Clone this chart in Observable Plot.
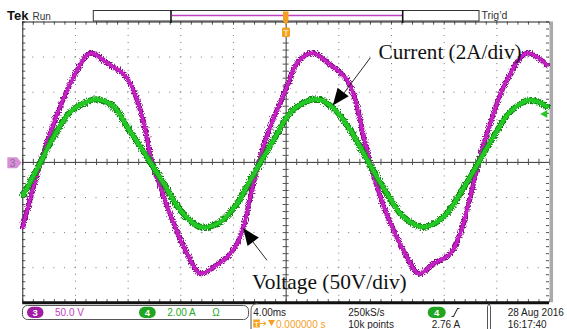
<!DOCTYPE html>
<html><head><meta charset="utf-8">
<script src="https://cdn.jsdelivr.net/npm/d3@7"></script>
<script src="https://cdn.jsdelivr.net/npm/@observablehq/plot@0.6"></script>
<style>
html,body{margin:0;padding:0;background:#fff;}
#chart{width:567px;height:329px;overflow:hidden;position:relative;}
svg{display:block;}
</style></head><body><div id="chart"></div>
<script>
// ---- Data ----
// time in ms relative to trigger (4 ms/div, 10 divisions)
const voltageTime = [-20.0,-18.66,-17.65,-16.38,-15.11,-14.73,-13.59,-12.58,-12.08,-11.32,-10.69,-10.18,-9.55,-8.54,-7.52,-6.51,-5.50,-4.49,-3.73,-3.23,-2.72,-2.09,-1.20,0.07,0.83,1.97,3.35,4.62,5.25,5.88,6.39,7.15,8.16,9.18,10.06,11.19,12.46,13.22,13.98,14.61,15.50,16.77,18.28,19.80];
const voltageValue = [-92,0,55.7,112.9,153.3,155.7,141.4,129.4,120,89,46.1,0,-34.9,-87.1,-130,-158.6,-149.1,-134.9,-115.7,-92,-49.1,0,50.9,108,141.4,155.7,139,117.6,89,36.6,0,-49.1,-96.7,-134.9,-158.6,-144.3,-130,-101.4,-49.1,0,55.7,117.6,155.7,139];
const currentTime = [-19.97,-18.66,-17.65,-16.38,-15.11,-14.35,-13.09,-12.08,-11.07,-10.31,-9.30,-8.03,-6.51,-4.99,-3.73,-2.72,-1.96,-0.95,0.07,0.83,2.35,3.60,4.87,6.26,7.66,8.92,10.44,11.95,13.22,14.61,15.75,17.02,18.53,19.80];
const currentValue = [-1.87,0,1.46,2.89,3.46,3.59,3.18,2.03,0.89,0,-1.20,-2.73,-3.68,-3.39,-2.34,-1.01,0,1.27,2.61,3.18,3.60,3.09,1.85,0,-1.77,-3.11,-3.68,-3.11,-1.77,0,1.46,2.89,3.56,3.18];
const voltsPerDiv = 50, ampsPerDiv = 2, msPerDiv = 4;
const triggerLevel = 2.76; // A, channel 4
const majorX = [-16,-12,-8,-4,4,8,12,16];
const majorY = [-3,-2,-1,1,2,3];

const voltage = voltageTime.map((t,i)=>({t, v: voltageValue[i]}));
const current = currentTime.map((t,i)=>({t, a: currentValue[i]}));
const minorX = d3.range(-20, 20.001, msPerDiv/5);
const minorY = d3.range(-4, 4.001, 0.2);

const W = 567, H = 329;
const mL = 22.3, mR = 18, mT = 21.5, mB = 26.7;
const MAG = "#c61fc6", MAGD = "#8a0e8a", GRN = "#24c824", GRND = "#0c8a0c";
const TXT = "Liberation Sans, Arial, sans-serif";
const SERIF = "Liberation Serif, Times New Roman, serif";

const plot = Plot.plot({
  width: W, height: H,
  marginLeft: mL, marginRight: mR, marginTop: mT, marginBottom: mB,
  x: {domain: [-20, 20], axis: null},
  y: {domain: [-4, 4], axis: null},
  style: {background: "#fff", overflow: "visible"},
  marks: [
    Plot.ruleX(majorX, {stroke: "#777", strokeDasharray: "1,6.02", strokeDashoffset: 0.5}),
    Plot.ruleY(majorY, {stroke: "#777", strokeDasharray: "1,9.53", strokeDashoffset: 0.5}),
    Plot.ruleX([0], {stroke: "#333"}),
    Plot.ruleY([0], {stroke: "#333"}),
    Plot.ruleX(minorX, {y1: -0.09, y2: 0.09, stroke: "#555"}),
    Plot.ruleY(minorY, {x1: -0.23, x2: 0.23, stroke: "#555"}),
    Plot.ruleX(minorX, {y1: 4, y2: 3.91, stroke: "#555"}),
    Plot.ruleX(minorX, {y1: -4, y2: -3.91, stroke: "#555"}),
    Plot.ruleY(minorY, {x1: -20, x2: -19.77, stroke: "#555"}),
    Plot.ruleY(minorY, {x1: 20, x2: 19.77, stroke: "#555"}),
    Plot.ruleY([4], {stroke: "#222"}),
    Plot.ruleX([-20], {stroke: "#222"}),
    Plot.ruleX([20], {stroke: "#aaa", strokeWidth: 3.5, dx: 1.8}),
    // voltage trace (channel 3): noisy envelope + core
    Plot.line(voltage, {x: "t", y: d => d.v / voltsPerDiv, curve: "catmull-rom", stroke: MAGD, strokeWidth: 5}),
    Plot.line(voltage, {x: "t", y: d => d.v / voltsPerDiv, curve: "catmull-rom", stroke: MAG, strokeWidth: 3.2}),
    // current trace (channel 4)
    Plot.line(current, {x: "t", y: d => d.a / ampsPerDiv, curve: "catmull-rom", stroke: GRND, strokeWidth: 6}),
    Plot.line(current, {x: "t", y: d => d.a / ampsPerDiv, curve: "catmull-rom", stroke: GRN, strokeWidth: 4}),
    Plot.ruleY([-4], {stroke: "#111", strokeWidth: 3}),
    Plot.dot([triggerLevel], {x: 19.65, y: d => d / ampsPerDiv, symbol: "triangle", rotate: -90, r: 3, fill: GRN, stroke: "none"}),
    // annotations
    Plot.link([{x1: 6.39, y1: 2.98, x2: 4.4, y2: 1.98}], {x1: "x1", y1: "y1", x2: "x2", y2: "y2", stroke: "#111", strokeWidth: 0.9}),
    Plot.link([{x1: -1.45, y1: -2.79, x2: -2.6, y2: -2.23}], {x1: "x1", y1: "y1", x2: "x2", y2: "y2", stroke: "#111", strokeWidth: 0.9}),
    Plot.text(["Current (2A/div)"], {x: 7.02, y: 3.15, textAnchor: "start", fontFamily: SERIF, fontSize: 21.2, fill: "#111"}),
    Plot.text(["Voltage (50V/div)"], {x: -2.59, y: -3.42, textAnchor: "start", fontFamily: SERIF, fontSize: 21.4, fill: "#111"})
  ]
});
document.getElementById("chart").appendChild(plot);

const svg = d3.select(plot);
const defs = svg.insert("defs", ":first-child");
const f = defs.append("filter").attr("id","fz").attr("filterUnits","userSpaceOnUse")
  .attr("x",0).attr("y",0).attr("width",W).attr("height",H);
f.append("feTurbulence").attr("type","fractalNoise").attr("baseFrequency","0.9 0.7").attr("numOctaves",2).attr("seed",4).attr("result","n");
f.append("feDisplacementMap").attr("in","SourceGraphic").attr("in2","n").attr("scale",6).attr("xChannelSelector","R").attr("yChannelSelector","G");
const lineGroups = svg.selectAll('g[aria-label="line"]').nodes();
[0, 2].forEach(i => { if (lineGroups[i]) d3.select(lineGroups[i]).attr("filter","url(#fz)"); });

// scales for arrowheads
const sx = plot.scale("x"), sy = plot.scale("y");
const X = d3.scaleLinear(sx.domain, sx.range), Y = d3.scaleLinear(sy.domain, sy.range);
function head(tail, tip, len, wid){
  const x0 = X(tail[0]), y0 = Y(tail[1]), x1 = X(tip[0]), y1 = Y(tip[1]);
  const dx = x1-x0, dy = y1-y0, L = Math.hypot(dx,dy), ux = dx/L, uy = dy/L;
  const bx = x1-ux*len, by = y1-uy*len;
  svg.append("path").attr("d", `M${x1},${y1}L${bx-uy*wid/2},${by+ux*wid/2}L${bx+uy*wid/2},${by-ux*wid/2}Z`).attr("fill","#000");
}
head([6.39, 2.98],[3.58, 1.609], 17, 14);
head([-1.45, -2.79],[-3.23, -1.886], 17, 14);

// ---- scope chrome ----
const g = svg.append("g").attr("font-family", TXT).attr("text-anchor","start");
function txt(x,y,s,opt={}){
  const t = g.append("text").attr("x",x).attr("y",y).text(s).attr("font-size", opt.size||10).attr("fill", opt.fill||"#222")
    .attr("text-anchor", opt.anchor||"start");
  if (opt.weight) t.attr("font-weight", opt.weight);
  return t;
}
txt(7, 20, "Tek", {size: 13, weight: "bold", fill: "#111"});
txt(32.5, 19.5, "Run", {size: 10, fill: "#333"});
g.append("rect").attr("x",93.3).attr("y",10.5).attr("width",385.7).attr("height",10.5).attr("fill","none").attr("stroke","#333");
g.append("line").attr("x1",172).attr("x2",402).attr("y1",15.5).attr("y2",15.5).attr("stroke","#c040c0").attr("stroke-width",1.3);
g.append("line").attr("x1",171).attr("x2",171).attr("y1",10).attr("y2",23).attr("stroke","#111").attr("stroke-width",1.6);
g.append("line").attr("x1",402.7).attr("x2",402.7).attr("y1",10).attr("y2",23).attr("stroke","#111").attr("stroke-width",1.6);
txt(481.5, 18.5, "Trig\u2019d", {size: 10.5, fill: "#333"});
// trigger position markers
const OR = "#f4a01e";
g.append("rect").attr("x",283).attr("y",11.5).attr("width",5.5).attr("height",9).attr("fill",OR);
g.append("path").attr("d","M282.5,20.5L289,20.5L285.75,25Z").attr("fill",OR);
g.append("rect").attr("x",282).attr("y",27.5).attr("width",8).attr("height",9.5).attr("rx",1.5).attr("fill",OR);
txt(286, 35.5, "T", {size: 8.5, weight: "bold", fill: "#ffe6b0", anchor: "middle"});
// channel 3 ground marker
g.append("path").attr("d","M7.3,157.3L16.8,157.3L21.7,162.8L16.8,168.3L7.3,168.3Z").attr("fill","#d88ed8");
txt(12.5, 166.5, "3", {size: 10, fill: "#8a6a8a", anchor: "middle"});

// bottom status bar
g.append("rect").attr("x",22.5).attr("y",305.5).attr("width",226).attr("height",14).attr("rx",5).attr("fill","none").attr("stroke","#555");
g.append("rect").attr("x",27).attr("y",306.8).attr("width",16.5).attr("height",11.2).attr("rx",5.6).attr("fill","#a21ca2");
txt(35.2, 315.6, "3", {size: 9.5, fill: "#fff", anchor: "middle", weight: "bold"});
txt(55, 315.5, "50.0 V", {fill: "#c040c0"});
g.append("rect").attr("x",139).attr("y",306.8).attr("width",16.7).attr("height",11.2).attr("rx",5.6).attr("fill","#1fa51f");
txt(147.4, 315.6, "4", {size: 9.5, fill: "#fff", anchor: "middle", weight: "bold"});
txt(167.3, 315.5, "2.00 A", {fill: "#22aa22"});
txt(212.3, 315.5, "\u03A9", {fill: "#22aa22"});
g.append("path").attr("d","M258,303.5Q251,303.5 251,310.5L251,329").attr("fill","none").attr("stroke","#555");
txt(253.3, 315.5, "4.00ms", {fill: "#222"});
g.append("rect").attr("x",253.3).attr("y",319.5).attr("width",6.5).attr("height",8).attr("fill",OR);
txt(256.5, 326.5, "T", {size: 7.5, weight: "bold", fill: "#fff2d8", anchor: "middle"});
g.append("path").attr("d","M260,323.5L265.5,323.5M263.5,321.5L266,323.5L263.5,325.5").attr("stroke",OR).attr("fill","none");
g.append("path").attr("d","M268,320L275,320L271.5,326Z").attr("fill",OR);
txt(276, 327.5, "0.000000 s", {fill: OR});
txt(348.3, 315.5, "250kS/s");
txt(348.3, 327.5, "10k points");
g.append("rect").attr("x",427.7).attr("y",306.8).attr("width",18).attr("height",11.2).attr("rx",5.6).attr("fill","#1fa51f");
txt(436.7, 315.6, "4", {size: 9.5, fill: "#fff", anchor: "middle", weight: "bold"});
g.append("path").attr("d","M451.5,316.5L453.5,316.5L457.5,308.5L459.5,308.5").attr("stroke","#333").attr("fill","none").attr("stroke-width",1.1);
txt(431.7, 327.5, "2.76 A");
g.append("path").attr("d","M487.5,329L487.5,306.5L489,303.5L490.5,306.5L490.5,329").attr("fill","none").attr("stroke","#555");
txt(507.7, 315.5, "28 Aug 2016");
txt(507.7, 327.5, "16:17:40");
</script>
</body></html>
